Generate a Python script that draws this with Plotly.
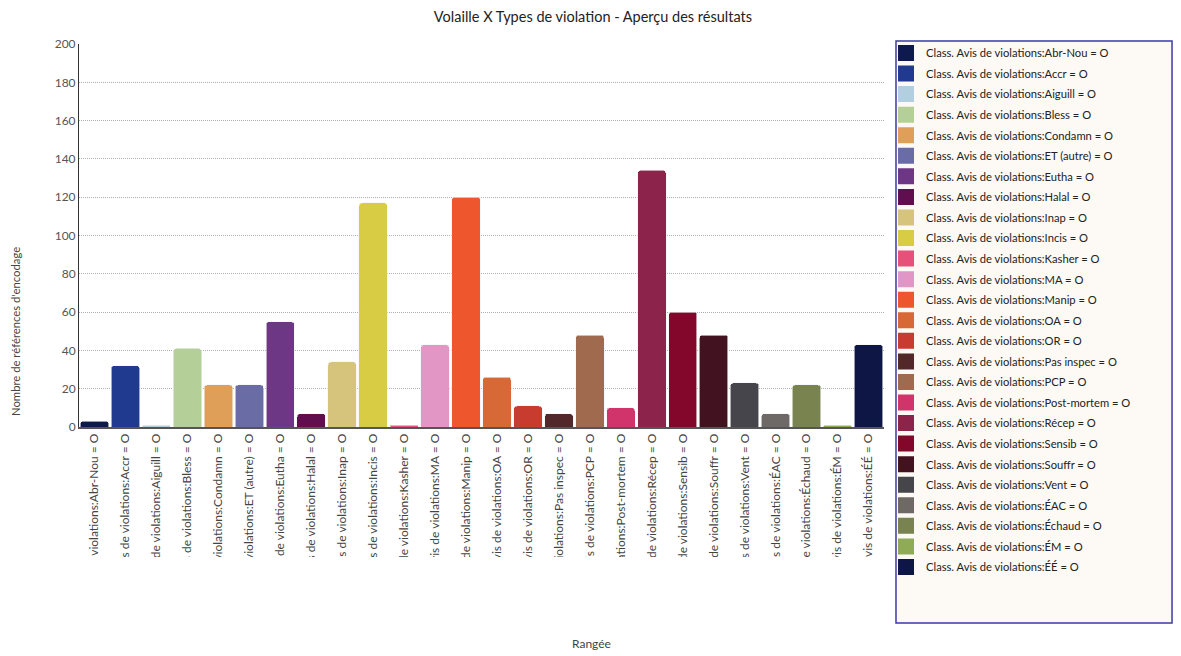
import plotly.graph_objects as go

# types de violation (volaille) et nombre de références
codes = ["Abr-Nou", "Accr", "Aiguill", "Bless", "Condamn", "ET (autre)", "Eutha",
         "Halal", "Inap", "Incis", "Kasher", "MA", "Manip", "OA", "OR",
         "Pas inspec", "PCP", "Post-mortem", "Récep", "Sensib", "Souffr",
         "Vent", "ÉAC", "Échaud", "ÉM", "ÉÉ"]
valeurs = [3, 32, 1, 41, 22, 22, 55, 7, 34, 117, 1, 43, 120, 26, 11,
           7, 48, 10, 134, 60, 48, 23, 7, 22, 1, 43]
couleurs = ["#0e1a4c", "#1f3a8f", "#b2cfe0", "#b5cf98", "#e09f58", "#6a6ca6",
            "#6d3785", "#620d4e", "#d6c47c", "#d9cc45", "#e8507c", "#e296c6",
            "#ee572d", "#d66935", "#c83b2f", "#52282b", "#a06a4f", "#d0346a",
            "#8b234b", "#83062b", "#431220", "#46454c", "#6e6866", "#788350",
            "#8fab56", "#0d1645"]

etiquettes = ["Class. Avis de violations:" + c + " = O" for c in codes]

fig = go.Figure()
for nom, v, col in zip(etiquettes, valeurs, couleurs):
    fig.add_trace(go.Bar(x=[nom], y=[v], name=nom, legendgroup=nom, showlegend=False,
                         marker=dict(color=col, line=dict(color="#f4f4f4", width=0.6))))
    # entrée de légende avec un carré plus grand
    fig.add_trace(go.Scatter(x=[None], y=[None], mode="markers", name=nom,
                             legendgroup=nom, hoverinfo="skip",
                             marker=dict(symbol="square", size=16, color=col,
                                         line=dict(width=0))))

# la page html ajoute 8px de marge autour de la figure
fig.update_layout(
    width=1173, height=648,
    margin=dict(l=71, r=297, t=36, b=229, autoexpand=False),
    paper_bgcolor="white", plot_bgcolor="white",
    font=dict(family="Lato", size=12, color="#444"),
    barmode="stack", bargap=0.08, barcornerradius=3,
    title=dict(text="Volaille X Types de violation - Aperçu des résultats",
               x=0.4987, xanchor="center", y=0.986, yanchor="middle",
               font=dict(family="Lato", size=14.5, color="#222")),
    legend=dict(x=1.0025, y=1.0144, xanchor="left", yanchor="top",
                bgcolor="rgba(0,0,0,0)", borderwidth=0, traceorder="grouped",
                maxheight=640, itemsizing="trace",
                font=dict(family="Lato", size=11.2, color="#222"),
                tracegroupgap=1.56),
    showlegend=True,
)

fig.update_xaxes(type="category", tickangle=-90, showgrid=False, automargin=False,
                 showline=True, linecolor="#555", linewidth=1.5,
                 tickfont=dict(family="Lato", size=12, color="#444"),
                 ticks="", fixedrange=True)
fig.update_yaxes(range=[0, 200], dtick=20, showgrid=True, gridcolor="#b0b0b0",
                 griddash="1px,1px", gridwidth=1, showline=True, linecolor="#333",
                 linewidth=1, zeroline=False, ticks="", automargin=False,
                 tickfont=dict(family="Lato", size=12, color="#555"))

# cadre de la légende
fig.add_shape(type="rect", xref="paper", yref="paper",
              x0=1.0149, x1=1.3578, y0=-0.5117, y1=1.0078,
              fillcolor="#fdfaf5", line=dict(color="#3a3aa8", width=1.5),
              layer="below")
# masque qui coupe les étiquettes trop longues
fig.add_shape(type="rect", xref="paper", yref="paper",
              x0=-0.1, x1=1.01, y0=-0.3394, y1=-0.62,
              fillcolor="white", line=dict(width=0), layer="above")

fig.add_annotation(text="Nombre de références d'encodage", xref="paper", yref="paper",
                   x=-0.0795, y=0.248, xanchor="center", yanchor="middle",
                   textangle=-90, showarrow=False,
                   font=dict(family="Lato", size=11.3, color="#444"))
fig.add_annotation(text="Rangée", xref="paper", yref="paper",
                   x=0.637, y=-0.566, xanchor="center", yanchor="middle",
                   showarrow=False,
                   font=dict(family="Lato", size=12, color="#444"))

fig.write_html("out.html")
